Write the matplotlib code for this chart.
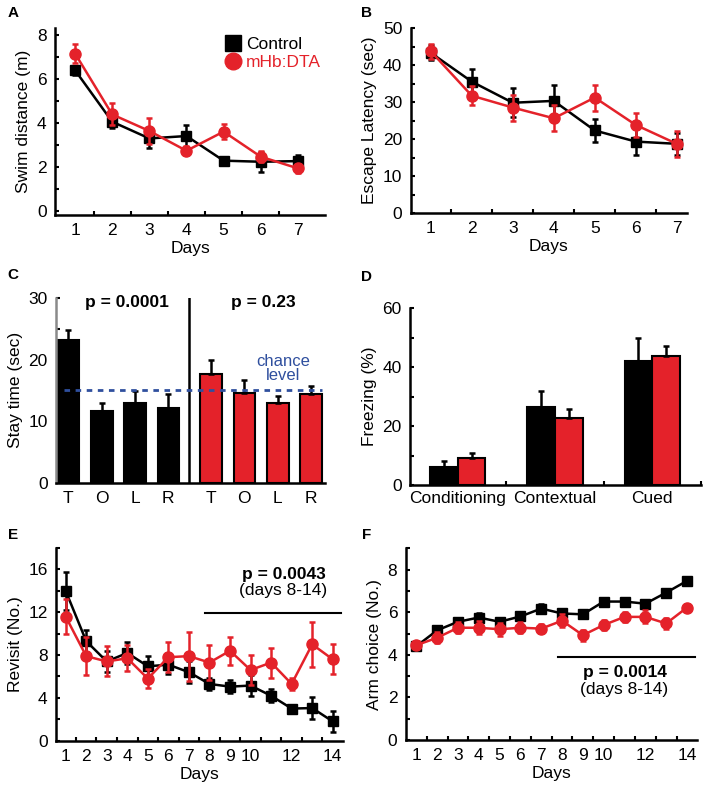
import matplotlib
matplotlib.use("Agg")
import matplotlib.pyplot as plt
import numpy as np
from matplotlib.lines import Line2D

plt.rcParams['font.family'] = ['Liberation Sans', 'DejaVu Sans']

RED = '#e4222a'
BLK = '#000000'
BLUE = '#2f4f9e'

# ---------------- data ----------------
days7 = [1, 2, 3, 4, 5, 6, 7]
a_ctrl = [6.38, 4.04, 3.28, 3.39, 2.27, 2.22, 2.25]
a_ctrl_err = [0.2, 0.3, 0.45, 0.5, 0.15, 0.45, 0.3]
a_dta = [7.14, 4.37, 3.62, 2.72, 3.59, 2.45, 1.92]
a_dta_err = [0.45, 0.5, 0.6, 0.2, 0.35, 0.25, 0.2]

b_ctrl = [43.3, 35.5, 29.8, 30.3, 22.3, 19.3, 18.7]
b_ctrl_err = [2.0, 3.3, 3.9, 4.2, 3.0, 3.5, 3.0]
b_dta = [43.7, 31.7, 28.5, 25.6, 31.2, 23.8, 18.7]
b_dta_err = [2.0, 2.5, 3.5, 3.5, 3.5, 3.3, 3.5]

c_quadrants = ['T', 'O', 'L', 'R']
c_ctrl = [23.2, 11.7, 12.9, 12.1]
c_ctrl_err = [1.6, 1.3, 2.0, 2.3]
c_dta = [17.7, 14.65, 12.9, 14.4]
c_dta_err = [2.2, 2.05, 1.2, 1.3]
c_chance = 15
c_pvals = ['p = 0.0001', 'p = 0.23']

d_cats = ['Conditioning', 'Contextual', 'Cued']
d_ctrl = [6.2, 26.6, 42.1]
d_ctrl_err = [1.9, 5.3, 7.7]
d_dta = [9.05, 22.6, 43.8]
d_dta_err = [1.7, 3.2, 3.4]

days14 = list(range(1, 15))
day_labels14 = ['1', '2', '3', '4', '5', '6', '7', '8', '9', '10', '', '12', '', '14']
e_ctrl = [14.0, 9.3, 7.4, 8.2, 6.95, 7.1, 6.4, 5.3, 5.05, 5.15, 4.2, 3.0, 3.05, 1.8]
e_ctrl_err = [1.75, 1.0, 1.0, 1.0, 1.0, 0.9, 1.0, 0.6, 0.6, 1.0, 0.6, 0.3, 1.0, 1.0]
e_dta = [11.6, 7.9, 7.4, 7.7, 5.8, 7.8, 7.9, 7.3, 8.4, 6.6, 7.3, 5.3, 9.0, 7.6]
e_dta_err = [1.6, 1.8, 1.4, 1.2, 0.9, 1.4, 2.3, 1.6, 1.3, 1.4, 1.4, 0.6, 2.1, 1.4]

f_ctrl = [4.4, 5.15, 5.55, 5.75, 5.55, 5.8, 6.17, 5.94, 5.9, 6.5, 6.5, 6.4, 6.92, 7.47]
f_ctrl_err = [0.15, 0.15, 0.15, 0.2, 0.15, 0.15, 0.2, 0.15, 0.15, 0.15, 0.15, 0.15, 0.15, 0.15]
f_dta = [4.45, 4.8, 5.27, 5.27, 5.2, 5.27, 5.23, 5.6, 4.92, 5.4, 5.78, 5.78, 5.47, 6.22]
f_dta_err = [0.2, 0.25, 0.25, 0.3, 0.3, 0.25, 0.2, 0.3, 0.25, 0.25, 0.25, 0.3, 0.25, 0.15]

# ---------------- figure ----------------
W, H = 708, 791
fig = plt.figure(figsize=(W / 100, H / 100), dpi=100)


def add_ax(l, r, t, b):
    return fig.add_axes([l / W, 1 - b / H, (r - l) / W, (b - t) / H])


TFS = 12.5
LFS = 12.5


def style(ax):
    for s in ['top', 'right']:
        ax.spines[s].set_visible(False)
    for s in ['left', 'bottom']:
        ax.spines[s].set_linewidth(1.8)
    ax.tick_params(which='both', direction='in', length=3, width=1.5, labelsize=TFS, pad=6)


def line_panel(ax, x, c, ce, d, de, ms_sq=7, ms_ci=8):
    ax.errorbar(x, c, yerr=ce, color=BLK, lw=1.8, marker='s', ms=ms_sq,
                elinewidth=1.8, capsize=2, capthick=1.8, zorder=3)
    ax.errorbar(x, d, yerr=de, color=RED, lw=1.8, marker='o', ms=ms_ci,
                elinewidth=1.8, capsize=2, capthick=1.8, zorder=4)


# ---- A ----
axA = add_ax(55, 325, 28, 215)
line_panel(axA, days7, a_ctrl, a_ctrl_err, a_dta, a_dta_err)
style(axA)
axA.set_xlim(0.46, 7.73)
axA.set_ylim(-0.2, 8.3)
axA.set_yticks([0, 2, 4, 6, 8])
axA.set_yticks([1, 3, 5, 7], minor=True)
axA.set_xticks(days7)
axA.set_xticks(np.arange(1.5, 7.5, 1), minor=True)
axA.tick_params(axis='x', which='major', length=0)
axA.set_xlabel('Days', fontsize=LFS, labelpad=2)
axA.set_ylabel('Swim distance (m)', fontsize=LFS, labelpad=4)
handles = [Line2D([], [], color=BLK, marker='s', ls='none', ms=12),
           Line2D([], [], color=RED, marker='o', ls='none', ms=12)]
axA.legend(handles, ['Control', 'mHb:DTA'], loc='upper left', bbox_to_anchor=(0.6, 1.0),
           frameon=False, fontsize=12.5, handlelength=0.8, handletextpad=0.35,
           labelspacing=0.2, borderpad=0, labelcolor=[BLK, RED])

# ---- B ----
axB = add_ax(410.7, 687, 28, 213)
line_panel(axB, days7, b_ctrl, b_ctrl_err, b_dta, b_dta_err)
style(axB)
axB.set_xlim(0.51, 7.25)
axB.set_ylim(0, 50)
axB.set_yticks([0, 10, 20, 30, 40, 50])
axB.set_yticks([5, 15, 25, 35, 45], minor=True)
axB.set_xticks(days7)
axB.set_xticks(np.arange(1.5, 7.5, 1), minor=True)
axB.tick_params(axis='x', which='major', length=0)
axB.set_xlabel('Days', fontsize=LFS, labelpad=2)
axB.set_ylabel('Escape Latency (sec)', fontsize=LFS, labelpad=4)

# ---- C ----
axC = add_ax(56, 325, 298, 482.7)
xc_ctrl = np.arange(1, 5)
xc_dta = np.arange(1, 5) + 4.28
bw = 0.65
axC.bar(xc_ctrl, c_ctrl, width=bw, color=BLK, edgecolor=BLK, lw=1.5,
        yerr=[np.zeros(4), c_ctrl_err], error_kw=dict(ecolor=BLK, elinewidth=1.8, capsize=2, capthick=1.8))
axC.bar(xc_dta, c_dta, width=bw, color=RED, edgecolor=BLK, lw=1.5,
        yerr=[np.zeros(4), c_dta_err], error_kw=dict(ecolor=BLK, elinewidth=1.8, capsize=2, capthick=1.8))
style(axC)
axC.spines['left'].set_color('#8a8a8a')
axC.set_xlim(0.63, 8.7)
axC.set_ylim(0, 30)
axC.axvline(4.63, color=BLK, lw=1.8)
axC.axhline(c_chance, xmin=0.03, xmax=0.99, color=BLUE, lw=2, ls=(0, (2, 2)), zorder=5)
axC.text(7.45, 18.5, 'chance\nlevel', color=BLUE, fontsize=12, ha='center', va='center', linespacing=0.9)
axC.text(2.76, 29.3, c_pvals[0], fontsize=12.5, fontweight='bold', ha='center', va='center')
axC.text(6.85, 29.3, c_pvals[1], fontsize=12.5, fontweight='bold', ha='center', va='center')
axC.set_yticks([0, 10, 20, 30])
axC.set_yticks([5, 15, 25], minor=True)
axC.set_xticks(list(xc_ctrl) + list(xc_dta))
axC.set_xticklabels(c_quadrants + c_quadrants)
axC.tick_params(axis='x', which='major', length=0)
axC.set_ylabel('Stay time (sec)', fontsize=LFS, labelpad=4)

# ---- D ----
axD = add_ax(410, 701, 308, 485)
xd = np.arange(1, 4)
dw = 0.285
axD.bar(xd - dw / 2, d_ctrl, width=dw, color=BLK, edgecolor=BLK, lw=1.5,
        yerr=[np.zeros(3), d_ctrl_err], error_kw=dict(ecolor=BLK, elinewidth=1.8, capsize=2, capthick=1.8))
axD.bar(xd + dw / 2, d_dta, width=dw, color=RED, edgecolor=BLK, lw=1.5,
        yerr=[np.zeros(3), d_dta_err], error_kw=dict(ecolor=BLK, elinewidth=1.8, capsize=2, capthick=1.8))
style(axD)
axD.set_xlim(0.51, 3.5)
axD.set_ylim(0, 60)
axD.set_yticks([0, 20, 40, 60])
axD.set_yticks([10, 30, 50], minor=True)
axD.set_xticks(xd)
axD.set_xticklabels(d_cats)
axD.set_xticks([1.5, 2.5, 3.5], minor=True)
axD.tick_params(axis='x', which='major', length=0, pad=4)
axD.set_ylabel('Freezing (%)', fontsize=LFS, labelpad=4)

# ---- E ----
axE = add_ax(56, 343, 548, 740.7)
line_panel(axE, days14, e_ctrl, e_ctrl_err, e_dta, e_dta_err)
style(axE)
axE.set_xlim(0.53, 14.5)
axE.set_ylim(0, 18)
axE.set_yticks([0, 4, 8, 12, 16])
axE.set_yticks([2, 6, 10, 14, 18], minor=True)
axE.set_xticks(days14)
axE.set_xticklabels(day_labels14)
axE.set_xticks(np.arange(1.5, 14.5, 1), minor=True)
axE.tick_params(axis='x', which='major', length=0)
axE.set_xlabel('Days', fontsize=LFS, labelpad=2)
axE.set_ylabel('Revisit (No.)', fontsize=LFS, labelpad=4)
axE.plot([7.77, 14.42], [11.9, 11.9], color=BLK, lw=1.5)
axE.text(11.6, 15.5, 'p = 0.0043', fontsize=12.5, fontweight='bold', ha='center', va='center')
axE.text(11.6, 14.0, '(days 8-14)', fontsize=12.5, ha='center', va='center')

# ---- F ----
axF = add_ax(405.7, 697, 548.3, 740)
line_panel(axF, days14, f_ctrl, f_ctrl_err, f_dta, f_dta_err)
style(axF)
axF.set_xlim(0.49, 14.48)
axF.set_ylim(0, 9)
axF.set_yticks([0, 2, 4, 6, 8])
axF.set_yticks([1, 3, 5, 7, 9], minor=True)
axF.set_xticks(days14)
axF.set_xticklabels(day_labels14)
axF.set_xticks(np.arange(1.5, 14.5, 1), minor=True)
axF.tick_params(axis='x', which='major', length=0)
axF.set_xlabel('Days', fontsize=LFS, labelpad=2)
axF.set_ylabel('Arm choice (No.)', fontsize=LFS, labelpad=4)
axF.plot([7.8, 14.36], [3.9, 3.9], color=BLK, lw=1.5)
axF.text(11.0, 3.15, 'p = 0.0014', fontsize=12.5, fontweight='bold', ha='center', va='center')
axF.text(11.0, 2.35, '(days 8-14)', fontsize=12.5, ha='center', va='center')

# panel letters
for lab, x, y in [('A', 13, 13), ('B', 367, 13), ('C', 13, 275),
                  ('D', 367, 277), ('E', 13, 535), ('F', 367, 535)]:
    fig.text(x / W, 1 - y / H, lab, fontsize=11, fontweight='bold', ha='center', va='center')

fig.savefig('out.png', dpi=100)
